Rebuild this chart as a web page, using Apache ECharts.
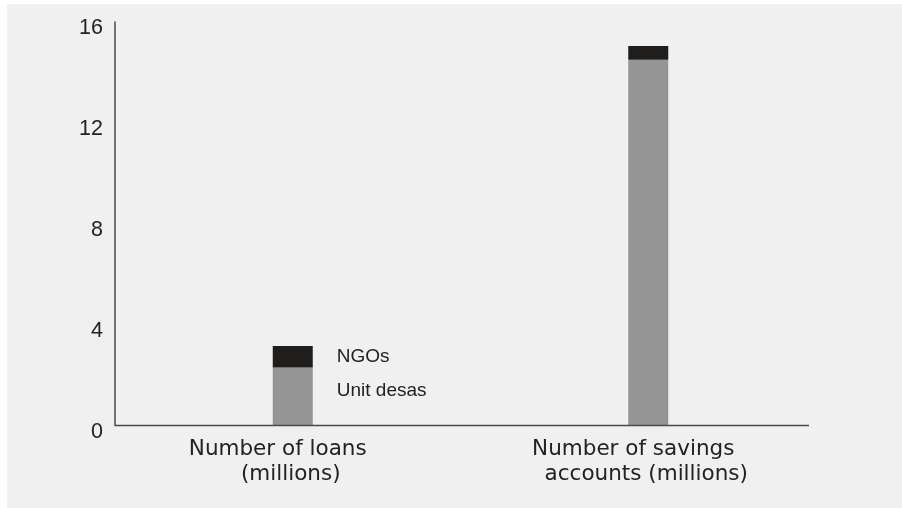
<!DOCTYPE html>
<html>
<head>
<meta charset="utf-8">
<script src="https://cdn.jsdelivr.net/npm/echarts@6/dist/echarts.min.js"></script>
<style>
  html, body { margin: 0; padding: 0; background: #ffffff; }
  #chart { position: absolute; left: 7px; top: 4px; width: 895px; height: 504px; }
</style>
</head>
<body>
<div id="chart"></div>
<script>
const categories = ['Number of loans\n(millions)', 'Number of savings\naccounts (millions)'];
const seriesNames = ['Unit desas', 'NGOs'];
const unitDesas = [2.3, 14.5];
const ngos = [0.85, 0.55];
const yTicks = { min: 0, max: 16, interval: 4 };

const chart = echarts.init(document.getElementById('chart'), null, { renderer: 'canvas' });

function buildData(values, labelCfg) {
  return values.map((v, i) => i === 0 ? { value: v, label: labelCfg } : { value: v });
}

const annoFont = { show: true, position: 'right', distance: 24, color: '#222', fontFamily: 'Liberation Sans', fontSize: 19 };
const catFont = { color: '#222', fontFamily: 'DejaVu Sans', fontSize: 21.5, lineHeight: 25 };

const option = {
  backgroundColor: '#f0f0f0',
  animation: false,
  grid: { left: 108, top: 18, right: 76, bottom: 82.5, containLabel: false },
  xAxis: {
    type: 'category',
    data: categories,
    axisLine: { show: false },
    axisTick: { show: false },
    axisLabel: {
      interval: 0, margin: 11,
      formatter: function (v) {
        const parts = v.split('\n');
        return '{a|' + parts[0] + '}\n{b|' + parts[1] + '}';
      },
      rich: {
        a: Object.assign({ padding: [0, 30, 0, 0] }, catFont),
        b: Object.assign({ padding: [0, 4, 0, 0] }, catFont)
      }
    }
  },
  yAxis: {
    type: 'value',
    min: yTicks.min, max: yTicks.max, interval: yTicks.interval,
    axisLine: { show: true, lineStyle: { color: '#4a4a4a', width: 1.5 } },
    axisTick: { show: false },
    splitLine: { show: false },
    axisLabel: {
      margin: 12,
      formatter: '{v|{value}}',
      rich: { v: { color: '#222', fontFamily: 'Liberation Sans', fontSize: 21.5, padding: [13, 0, 0, 0] } }
    }
  },
  series: [
    {
      name: seriesNames[0], type: 'bar', stack: 'total', barWidth: 40,
      itemStyle: { color: '#959595' },
      data: buildData(unitDesas, Object.assign({}, annoFont, { formatter: seriesNames[0], offset: [0, -6] })),
      label: { show: false }
    },
    {
      name: seriesNames[1], type: 'bar', stack: 'total', barWidth: 40,
      itemStyle: { color: '#201e1c' },
      data: buildData(ngos, Object.assign({}, annoFont, { formatter: seriesNames[1] })),
      label: { show: false }
    }
  ]
};
chart.setOption(option);

// x-axis baseline (shorter than the grid, as in the reference)
const y0 = chart.convertToPixel({ yAxisIndex: 0 }, 0);
chart.setOption({
  graphic: [{
    type: 'line', z: 10,
    shape: { x1: 108, y1: y0, x2: 802, y2: y0 },
    style: { stroke: '#4a4a4a', lineWidth: 1.5 }
  }]
});
</script>
</body>
</html>
